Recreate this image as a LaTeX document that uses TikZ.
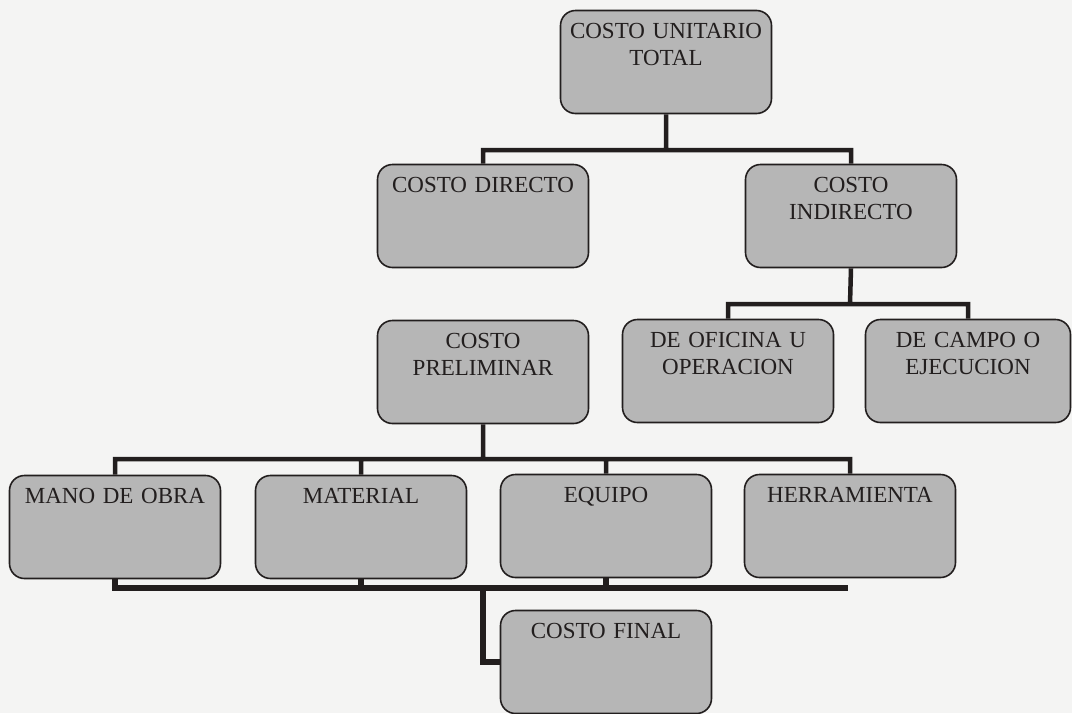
\documentclass[tikz,border=0pt]{standalone}
\usepackage{fontspec}
\setmainfont{Liberation Serif}
\usepackage{tikz}
\usetikzlibrary{calc, positioning, backgrounds}

\definecolor{paper}{RGB}{244,244,243}
\definecolor{boxgray}{RGB}{182,182,182}
\definecolor{ink}{RGB}{34,30,30}

\tikzset{
    box/.style={draw=ink, line width=1.6pt, fill=boxgray, rounded corners=15pt,
        minimum width=211pt, inner sep=0pt, text width=205pt, align=center,
        text height=28pt, text depth=75pt, text=ink,
        font=\fontsize{23}{27}\selectfont},
    conn/.style={draw=ink, line width=4.5pt},
    bus/.style={draw=ink, line width=6pt}
}

\begin{document}
\begin{tikzpicture}[x=1pt, y=-1pt]
                        \useasboundingbox (0,0) rectangle (1072,713);
                        \coordinate (j1) at (666, 150);
                        \coordinate (j2) at (850, 304);
                        \coordinate (j3) at (483, 459);
                        \coordinate (b1) at (848, 588);
                        \node[box] (cut) at (666, 62) {COSTO UNITARIO\\TOTAL};
                        \node[box] (cd) at (483, 216) {COSTO DIRECTO};
                        \node[box] (ci) at (851, 216) {COSTO\\INDIRECTO};
                        \node[box] (cp) at (483, 372) {COSTO\\PRELIMINAR};
                        \node[box] (of) at (728, 371) {DE OFICINA U\\OPERACION};
                        \node[box, minimum width=200pt] (ca) at (968, 371) {DE CAMPO O\\EJECUCION};
                        \node[box] (mob) at (115, 527) {MANO DE OBRA};
                        \node[box] (mat) at (361, 527) {MATERIAL};
                        \node[box] (eq) at (606, 526) {EQUIPO};
                        \node[box] (her) at (850, 526) {HERRAMIENTA};
                        \node[box] (cf) at (606, 662) {COSTO FINAL};
                        % connectors go under the boxes
                        \begin{scope}[on background layer]
                        \fill[paper] (0,0) rectangle (1072,713);
                        \draw[conn]
                        (cut.south) -- (j1)
                        (cd.north) |- (j1) -| (ci.north)
                        (ci.south) -- (j2)
                        (of.north) |- (j2) -| (ca.north)
                        (cp.south) -- (j3)
                        (mob.north) |- (j3) -| (her.north)
                        (mat.north) -- (mat.north |- j3)
                        (eq.north) -- (eq.north |- j3);
                        \draw[bus]
                        (mob.south) |- (b1)
                        (mat.south) -- (mat.south |- b1)
                        (eq.south) -- (eq.south |- b1)
                        (cp.south |- b1) |- (cf.west);
                        \end{scope}
                    \end{tikzpicture}
\end{document}
